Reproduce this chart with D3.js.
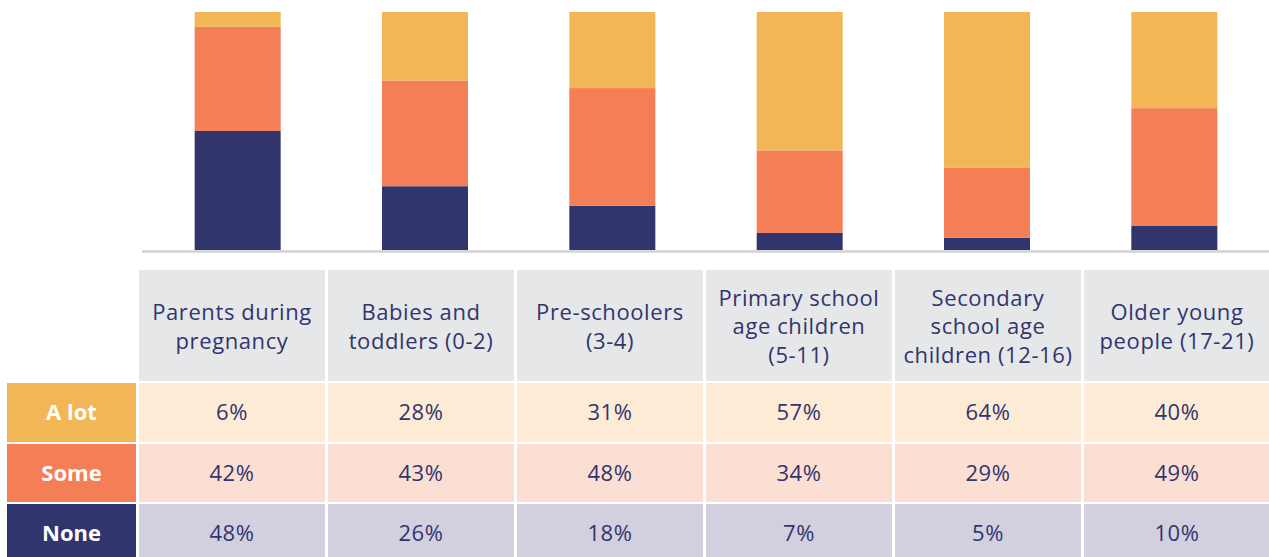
<!DOCTYPE html>
<html>
<head>
<meta charset="utf-8">
<script src="https://cdn.jsdelivr.net/npm/d3@7"></script>
<style>
  body { margin: 0; background: #fff; }
  svg { display: block; font-family: "Open Sans", sans-serif; }
</style>
</head>
<body>
<script>
const width = 1269,
    height = 557;

// data
const groups = ["Parents during pregnancy", "Babies and toddlers (0-2)", "Pre-schoolers (3-4)",
  "Primary school age children (5-11)", "Secondary school age children (12-16)", "Older young people (17-21)"];
const headerLines = [
  ["Parents during", "pregnancy"],
  ["Babies and", "toddlers (0-2)"],
  ["Pre-schoolers", "(3-4)"],
  ["Primary school", "age children", "(5-11)"],
  ["Secondary", "school age", "children (12-16)"],
  ["Older young", "people (17-21)"]
];
const levels = ["A lot", "Some", "None"];
const aLot = [6, 28, 31, 57, 64, 40];
const some = [42, 43, 48, 34, 29, 49];
const none = [48, 26, 18, 7, 5, 10];

const colors = { "A lot": "#f2b657", "Some": "#f47e55", "None": "#31356e" };
const rowFill = { "A lot": "#fdebd6", "Some": "#fcdfd3", "None": "#d2d0de" };
const textColor = "#31356e";

const table = groups.map((g, i) => ({ group: g, "A lot": aLot[i], "Some": some[i], "None": none[i] }));

const svg = d3.select("body").append("svg")
    .attr("width", width)
    .attr("height", height);

// stacked bars, normalised to each group's total
const stack = d3.stack().keys(["None", "Some", "A lot"]).offset(d3.stackOffsetExpand);
const series = stack(table);

const x = d3.scaleBand().domain(groups).range([144, 1268]);
const y = d3.scaleLinear().domain([0, 1]).range([250, 12]);
const barWidth = 86;

svg.append("g").selectAll("g")
  .data(series)
  .enter().append("g")
    .attr("fill", d => colors[d.key])
  .selectAll("rect")
  .data(d => d)
  .enter().append("rect")
    .attr("x", d => x(d.data.group) + x.bandwidth() / 2 - barWidth / 2)
    .attr("y", d => y(d[1]))
    .attr("width", barWidth)
    .attr("height", d => y(d[0]) - y(d[1]));

// baseline
svg.append("line")
    .attr("x1", 142)
    .attr("x2", width)
    .attr("y1", 251.5)
    .attr("y2", 251.5)
    .style("stroke", "#d0d0d2")
    .style("stroke-width", 2.5);

// table
const col = d3.scaleBand().domain(groups).range([139, 1270]).paddingInner(0.0159);
const rowY = { "header": [270, 381], "A lot": [383, 442], "Some": [444, 502], "None": [504, 563] };

const header = svg.append("g");
header.selectAll("rect")
  .data(groups)
  .enter().append("rect")
    .attr("x", d => col(d))
    .attr("y", rowY.header[0])
    .attr("width", col.bandwidth())
    .attr("height", rowY.header[1] - rowY.header[0])
    .style("fill", "#e6e7e9");

const lineH = 28.5;
header.selectAll("text")
  .data(groups)
  .enter().append("text")
    .attr("text-anchor", "middle")
    .style("fill", textColor)
    .style("font-size", "22px")
    .style("letter-spacing", "0.6px")
    .each(function(d, i) {
      const lines = headerLines[i];
      const cy = (rowY.header[0] + rowY.header[1]) / 2 + 1;
      d3.select(this).selectAll("tspan")
        .data(lines)
        .enter().append("tspan")
          .attr("x", col(d) + col.bandwidth() / 2)
          .attr("y", (t, j) => cy + (j - (lines.length - 1) / 2) * lineH)
          .attr("dy", "0.36em")
          .text(t => t);
    });

levels.forEach(function(level) {
  const r = rowY[level];
  const g = svg.append("g");

  // row label
  g.append("rect")
      .attr("x", 7)
      .attr("y", r[0])
      .attr("width", 129)
      .attr("height", r[1] - r[0])
      .style("fill", colors[level]);
  g.append("text")
      .attr("x", 71.5)
      .attr("y", (r[0] + r[1]) / 2)
      .attr("dy", "0.36em")
      .attr("text-anchor", "middle")
      .style("fill", "#fff")
      .style("font-weight", "700")
      .style("font-size", "22px")
      .text(level);

  g.selectAll("rect.cell")
    .data(table)
    .enter().append("rect")
      .attr("class", "cell")
      .attr("x", d => col(d.group))
      .attr("y", r[0])
      .attr("width", col.bandwidth())
      .attr("height", r[1] - r[0])
      .style("fill", rowFill[level]);

  g.selectAll("text.val")
    .data(table)
    .enter().append("text")
      .attr("class", "val")
      .attr("x", d => col(d.group) + col.bandwidth() / 2)
      .attr("y", (r[0] + r[1]) / 2)
      .attr("dy", "0.36em")
      .attr("text-anchor", "middle")
      .style("fill", textColor)
      .style("font-size", "22px")
      .style("letter-spacing", "0.6px")
      .text(d => d[level] + "%");
});
</script>
</body>
</html>
